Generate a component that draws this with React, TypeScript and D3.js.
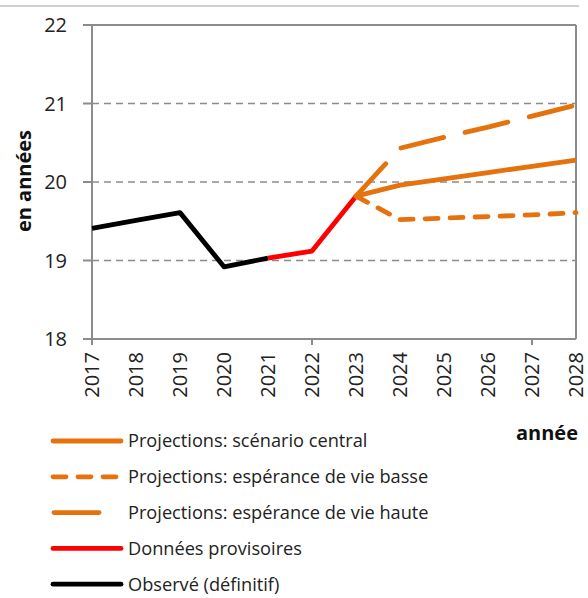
import React from 'react';
import * as d3 from 'd3';

const years = [2017, 2018, 2019, 2020, 2021, 2022, 2023, 2024, 2025, 2026, 2027, 2028];
const yTicks = [18, 19, 20, 21, 22];
const xMajorTicks = [2017, 2022, 2027];

const observed = [
  { year: 2017, value: 19.41 },
  { year: 2018, value: 19.51 },
  { year: 2019, value: 19.61 },
  { year: 2020, value: 18.92 },
  { year: 2021, value: 19.03 },
];
const provisional = [
  { year: 2021, value: 19.03 },
  { year: 2022, value: 19.12 },
  { year: 2023, value: 19.82 },
];
const central = [
  { year: 2023, value: 19.82 },
  { year: 2024, value: 19.96 },
  { year: 2025, value: 20.04 },
  { year: 2026, value: 20.12 },
  { year: 2027, value: 20.2 },
  { year: 2028, value: 20.28 },
];
const low = [
  { year: 2023, value: 19.82 },
  { year: 2024, value: 19.52 },
  { year: 2025, value: 19.54 },
  { year: 2026, value: 19.56 },
  { year: 2027, value: 19.58 },
  { year: 2028, value: 19.61 },
];
const high = [
  { year: 2023, value: 19.82 },
  { year: 2024, value: 20.43 },
  { year: 2025, value: 20.57 },
  { year: 2026, value: 20.7 },
  { year: 2027, value: 20.84 },
  { year: 2028, value: 20.98 },
];

const ORANGE = '#E6720E';
const GRID = '#8c8c8c';
const FONT = "'Open Sans', sans-serif";

const legendItems = [
  { label: 'Projections: scénario central', color: ORANGE, dash: null, short: false },
  { label: 'Projections: espérance de vie basse', color: ORANGE, dash: '13,12', short: false },
  { label: 'Projections: espérance de vie haute', color: ORANGE, dash: '44,30', short: true },
  { label: 'Données provisoires', color: '#FF0000', dash: null, short: false },
  { label: 'Observé (définitif)', color: '#000000', dash: null, short: false },
];

const App = () => {
  // plot area
  const left = 92,
    right = 576,
    top = 25,
    bottom = 339;

  const x = d3.scaleLinear().domain([2017, 2028]).range([left, right]);
  const y = d3.scaleLinear().domain([18, 22]).range([bottom, top]);

  const line = d3
    .line<{ year: number; value: number }>()
    .x((d) => x(d.year))
    .y((d) => y(d.value));

  const series = [
    { data: observed, color: '#000000', dash: null },
    { data: provisional, color: '#FF0000', dash: null },
    { data: low, color: ORANGE, dash: '13,12' },
    { data: high, color: ORANGE, dash: '44,22' },
    { data: central, color: ORANGE, dash: null },
  ];

  return (
    <svg
      width={588}
      height={598}
      style={{ position: 'absolute', left: 0, top: 0, background: '#fff' }}
    >
      {/* frame line at the top */}
      <line x1={0} x2={579} y1={6} y2={6} stroke="#d0d0d0" strokeWidth={2} />

      {/* grid lines */}
      {yTicks
        .filter((t) => t > 18 && t < 22)
        .map((t) => (
          <line
            key={t}
            x1={left}
            x2={right}
            y1={y(t)}
            y2={y(t)}
            stroke={GRID}
            strokeWidth={1.6}
            strokeDasharray="7,5"
          />
        ))}

      {/* box */}
      <line x1={left - 9} x2={right} y1={top} y2={top} stroke={GRID} strokeWidth={2} />
      <line x1={right} x2={right} y1={top} y2={bottom} stroke={GRID} strokeWidth={2} />
      <line x1={left} x2={left} y1={top} y2={bottom + 5} stroke={GRID} strokeWidth={2} />
      <line x1={left} x2={right} y1={bottom} y2={bottom} stroke={GRID} strokeWidth={2} />

      {/* y ticks */}
      {yTicks.map((t) => (
        <g key={t}>
          <line x1={left - 9} x2={left} y1={y(t)} y2={y(t)} stroke={GRID} strokeWidth={2} />
          <text
            x={67}
            y={y(t)}
            dy="0.35em"
            textAnchor="end"
            fontFamily={FONT}
            fontSize={20}
            fill="#222"
          >
            {t}
          </text>
        </g>
      ))}

      {/* x ticks */}
      {xMajorTicks.map((t) => (
        <line key={t} x1={x(t)} x2={x(t)} y1={bottom} y2={bottom + 6} stroke={GRID} strokeWidth={2} />
      ))}
      {years.map((t) => (
        <text
          key={t}
          transform={`translate(${x(t)},${bottom + 13}) rotate(-90)`}
          dy="0.35em"
          textAnchor="end"
          fontFamily={FONT}
          fontSize={20}
          fill="#222"
        >
          {t}
        </text>
      ))}

      {/* clipped label at the far left */}
      <text
        transform={`translate(-11,${bottom + 13}) rotate(-90)`}
        dy="0.35em"
        textAnchor="end"
        fontFamily={FONT}
        fontSize={20}
        fill="#222"
      >
        2023
      </text>

      {/* axis titles */}
      <text
        transform="translate(24,181) rotate(-90)"
        dy="0.35em"
        textAnchor="middle"
        fontFamily={FONT}
        fontWeight="bold"
        fontSize={20}
        fill="#111"
      >
        en années
      </text>
      <text
        x={578}
        y={440}
        textAnchor="end"
        fontFamily={FONT}
        fontWeight="bold"
        fontSize={20}
        fill="#111"
      >
        année
      </text>

      {/* series */}
      {series.map((s, i) => (
        <path
          key={i}
          d={line(s.data) || ''}
          fill="none"
          stroke={s.color}
          strokeWidth={4.8}
          strokeLinejoin="round"
          strokeLinecap={s.dash ? 'round' : 'butt'}
          strokeDasharray={s.dash || undefined}
        />
      ))}

      {/* legend */}
      {legendItems.map((item, i) => {
        const ly = 441 + i * 35.8;
        return (
          <g key={item.label}>
            <line
              x1={item.short ? 54 : 53}
              x2={item.short ? 99 : 121}
              y1={ly}
              y2={ly}
              stroke={item.color}
              strokeWidth={4.8}
              strokeLinecap="round"
              strokeDasharray={item.short ? undefined : item.dash || undefined}
            />
            <text
              x={128}
              y={ly}
              dy="0.35em"
              fontFamily={FONT}
              fontSize={18.2}
              fill="#222"
            >
              {item.label}
            </text>
          </g>
        );
      })}
    </svg>
  );
};

export default App;
